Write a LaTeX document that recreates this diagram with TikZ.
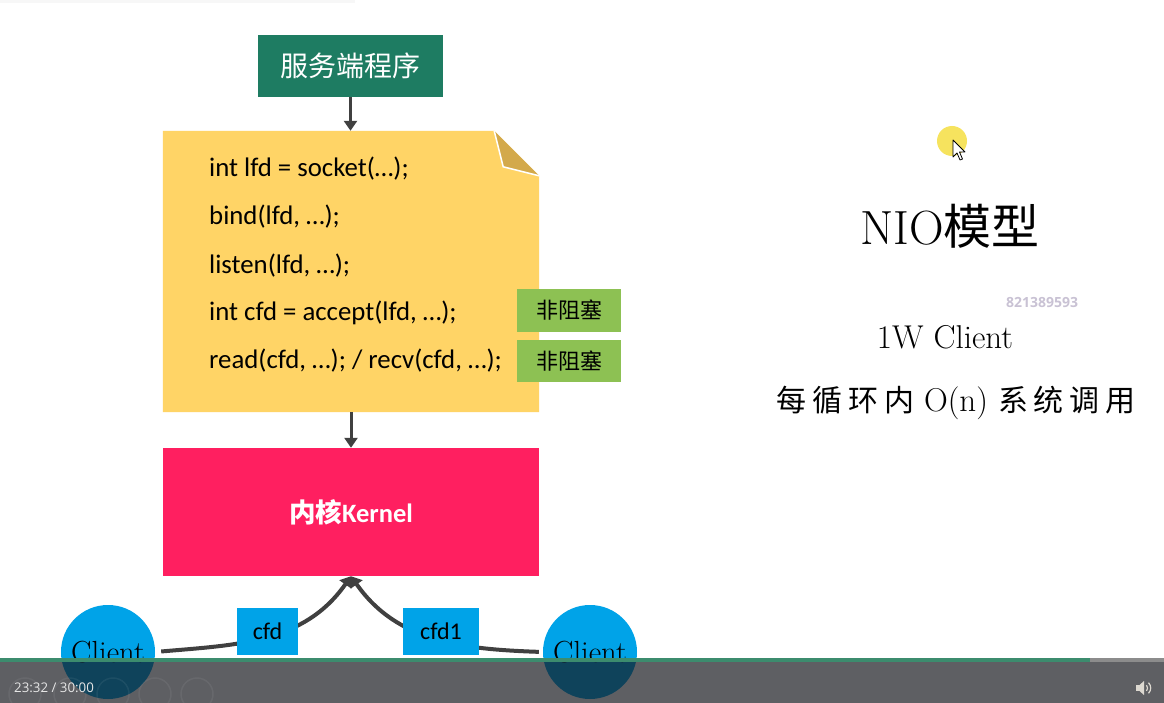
\documentclass[tikz,border=0pt]{standalone}
\usepackage{fontspec}
\newfontfamily\cjk{Noto Sans CJK SC}
\newfontfamily\code{Carlito}
\newfontfamily\ui{Open Sans}
\usetikzlibrary{arrows.meta}
\definecolor{srvgreen}{HTML}{1E7C62}
\definecolor{notey}{HTML}{FFD466}
\definecolor{foldc}{HTML}{D3A94B}
\definecolor{nbgreen}{HTML}{8DC153}
\definecolor{kernelc}{HTML}{FF1F60}
\definecolor{clientc}{HTML}{00A3E8}
\definecolor{arrc}{HTML}{404040}
\definecolor{barc}{HTML}{17181D}
\definecolor{progc}{HTML}{3C8C6E}
\definecolor{progrest}{HTML}{8C8C8C}
\definecolor{timec}{HTML}{E6E6E6}
\definecolor{wmc}{HTML}{C9C2D4}
\definecolor{cursorc}{HTML}{F6E35E}
\definecolor{iconc}{HTML}{DCD8D0}
\tikzset{
  arr/.style={draw=arrc, line width=3pt, -{Triangle[length=10pt,width=13pt]}},
  curvearr/.style={draw=arrc, line width=4pt, -{Triangle[length=10pt,width=14pt]}},
  codetxt/.style={anchor=base west, inner sep=0, font=\code\fontsize{26.8}{30}\selectfont},
  nbbox/.style={fill=nbgreen, minimum width=104pt, inner sep=0, font=\cjk\fontsize{22}{24}\selectfont},
  lbl/.style={fill=clientc, minimum height=47pt, inner sep=0, font=\code\fontsize{24}{26}\selectfont},
  client/.style={circle, fill=clientc, minimum size=94pt, inner sep=0, font=\fontsize{30.5}{32}\selectfont},
}
\begin{document}
\begin{tikzpicture}[x=1pt,y=-1pt]
\useasboundingbox (0,0) rectangle (1164,703);
\fill[white] (0,0) rectangle (1164,703);
\fill[black!3] (0,0) rectangle (355,3);

% server box
\node[fill=srvgreen, minimum width=185pt, minimum height=62pt, inner sep=0, text=white,
      font=\cjk\fontsize{28}{30}\selectfont] (server) at (350.5,66) {服务端程序};

% note
\node[minimum width=376pt, minimum height=281pt, inner sep=0] (note) at (351,271.5) {};
\fill[notey] (note.north west) -- ([xshift=-45pt]note.north east) -- ([yshift=-45pt]note.north east)
  -- (note.south east) -- (note.south west) -- cycle;
\filldraw[fill=foldc, draw=white, line width=1.5pt, line join=round]
  ([xshift=-45pt]note.north east) -- ([xshift=-36pt,yshift=-36pt]note.north east) -- ([yshift=-45pt]note.north east);

\node[codetxt] (l1) at (209,177) {int lfd = socket(…);};
\node[codetxt] (l2) at (209,225) {bind(lfd, …);};
\node[codetxt] (l3) at (209,273) {listen(lfd, …);};
\node[codetxt] (l4) at (209,320) {int cfd = accept(lfd, …);};
\node[codetxt] (l5) at (209,368) {read(cfd, …); / recv(cfd, …);};

\node[nbbox, minimum height=43pt] (nb1) at (569,310.5) {非阻塞};
\node[nbbox, minimum height=42pt] (nb2) at (569,361) {非阻塞};

% kernel
\node[fill=kernelc, minimum width=376pt, minimum height=128pt, inner sep=0, text=white,
      font=\fontsize{26.5}{28}\selectfont] (kernel) at (351,512)
      {{\cjk\bfseries 内核}{\code\bfseries Kernel}};

\draw[arr] (server.south) -- (server.south |- note.north);
\draw[arr] (note.south) -- (kernel.north);

% clients
\node[client] (lc) at (108,652) {Client};
\node[client] (rc) at (590,652) {Client};
\draw[curvearr, shorten <=6pt] (lc.east) to[out=5,in=235] (kernel.south);
\draw[curvearr, shorten <=4pt] (rc.west) to[out=178,in=305] (kernel.south);
\node[lbl, minimum width=61pt] (cfd) at (267.5,631.5) {cfd};
\node[lbl, minimum width=76pt] (cfdone) at (441,631.5) {cfd1};

% right texts
\node[font=\fontsize{48}{52}\selectfont] (title) at (950,226) {NIO{\cjk 模型}};
\node[font=\bfseries\ui\fontsize{14}{16}\selectfont, text=wmc] (wm) at (1042,302) {821389593};
\node[font=\fontsize{33}{36}\selectfont] (onew) at (945,337) {1W Client};
\node[font=\fontsize{33}{36}\selectfont] (loop) at (956,403)
  {{\cjk\fontsize{30}{36}\selectfont 每\hspace{6pt}循\hspace{6pt}环\hspace{6pt}内}\hspace{10pt}O(n)\hspace{10pt}{\cjk\fontsize{30}{36}\selectfont 系\hspace{6pt}统\hspace{6pt}调\hspace{6pt}用}};

% cursor
\fill[cursorc] (952,141) circle[radius=15pt];
\filldraw[fill=white, draw=black, line width=0.8pt, line join=round]
  (953,140) -- (953,157) -- (957,153) -- (960,160) -- (962.5,159) -- (959.5,152) -- (965,152) -- cycle;

% player bar
\fill[barc, opacity=0.69] (0,660) rectangle (1164,703);
\fill[progc] (0,657.5) rectangle (1090,661.5);
\fill[progrest] (1090,657.5) rectangle (1164,661.5);
\foreach \cx in {25,70,113,155,197}
  \draw[white, opacity=0.06, line width=1.5pt] (\cx,694) circle[radius=16pt];
\node[anchor=west, inner sep=0, text=timec, font=\ui\fontsize{13.3}{15}\selectfont] (time) at (14,688) {23:32 / 30:00};
\fill[iconc] (1136,685) rectangle (1139.5,691);
\fill[iconc] (1139.5,685) -- (1144,681) -- (1144,695) -- (1139.5,691) -- cycle;
\draw[iconc, line width=1.2pt] (1146.5,691) arc[start angle=-40, end angle=40, radius=4.5pt];
\draw[iconc, line width=1.2pt] (1148.5,693.3) arc[start angle=-45, end angle=45, radius=7.5pt];
\end{tikzpicture}
\end{document}
